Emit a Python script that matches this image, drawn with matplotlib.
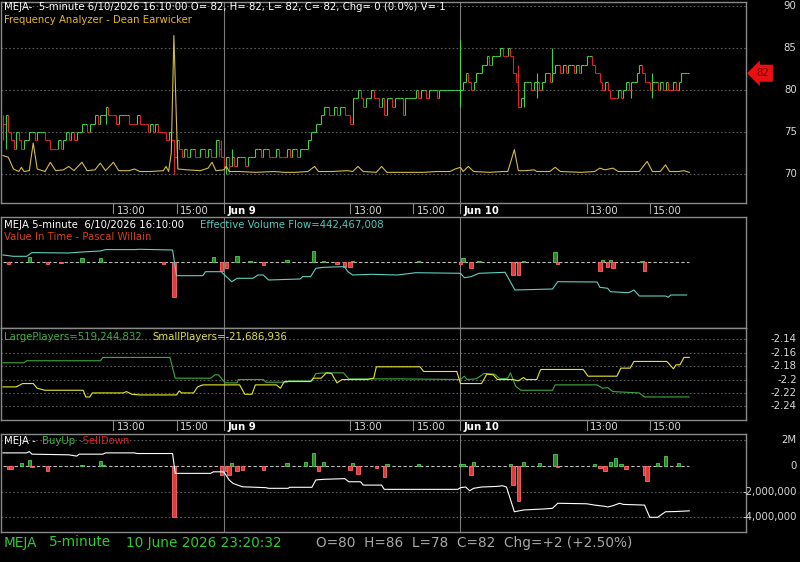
import numpy as np
import matplotlib
matplotlib.use("Agg")
import matplotlib.pyplot as plt
from matplotlib.collections import LineCollection

W, H = 800, 562
FRAME = "#8a8a8a"
GRID = "#5c5c5c"
TXT = "#d8d8d8"
GREEN = "#3fd13f"
RED = "#e02222"
FS = 7.3
LW = 0.8

# ---------------- data (x = 5-minute bar index, 0 = Jun 8 09:30) ----------------
tick_bars = [42, 66, 84, 132, 156, 174, 222, 246]
tick_labels = ["13:00", "15:00", "Jun 9", "13:00", "15:00", "Jun 10", "13:00", "15:00"]
day_bars = [84, 174]

close_jun8 = [76, 77, 75, 74, 73, 75, 74, 73, 74, 74, 75, 75, 74, 75, 75, 75,
              74, 74, 73, 73, 73, 74, 73, 74, 75, 74, 75, 74, 75, 75, 76, 76,
              75, 76, 76, 77, 76, 77, 77, 78, 77, 77, 77, 76, 77, 77, 77, 77,
              76, 76, 76, 77, 76, 76, 76, 75, 76, 75, 76, 75, 75, 75, 74, 75,
              74, 72, 74, 73, 72, 73, 72, 73, 73, 72, 72, 73, 73, 72, 73, 72,
              72, 74, 73, 72]
close_jun9 = [71, 72, 71, 72, 71, 72, 72, 72, 71, 72, 72, 72, 73, 73, 72, 73,
              73, 72, 72, 72, 73, 72, 72, 72, 73, 72, 73, 73, 72, 73, 73, 73,
              74, 75, 75, 76, 76, 77, 78, 78, 77, 77, 78, 77, 78, 78, 77, 77,
              76, 79, 79, 80, 79, 78, 79, 79, 80, 79, 79, 78, 79, 77, 79, 79,
              78, 79, 79, 79, 77, 79, 79, 79, 79, 80, 79, 80, 80, 79, 80, 80,
              80, 79, 80, 80, 80, 80, 80, 80, 80, 80]
close_jun10 = [80, 81, 82, 81, 80, 81, 82, 82, 83, 83, 84, 83, 84, 84, 84, 85,
               84, 84, 85, 84, 82, 81, 78, 79, 81, 81, 81, 80, 81, 81, 80, 81,
               82, 82, 81, 82, 83, 83, 82, 83, 82, 83, 83, 82, 83, 82, 83, 83,
               84, 84, 83, 82, 82, 81, 80, 81, 80, 79, 79, 79, 80, 79, 80, 81,
               80, 81, 81, 82, 83, 82, 81, 81, 80, 81, 81, 80, 81, 80, 81, 80,
               80, 81, 80, 81, 82, 82, 82]
closes = close_jun8 + close_jun9 + close_jun10

# (bar, low, high) extra wicks
wicks = [(0, 74, 77), (1, 73, 77), (39, 76, 78), (65, 70, 74), (81, 72, 74),
         (82, 72, 74), (83, 72, 74), (85, 70, 72), (86, 70, 72), (87, 71, 73),
         (174, 78, 86), (196, 78, 83), (198, 78, 81), (203, 79, 82),
         (209, 82, 85), (239, 79, 80), (247, 79, 82)]

freq_bar = [0, 2, 4, 6, 7, 8, 10, 11.5, 13, 16, 18, 20, 23, 25, 27, 30, 32, 35,
            37, 39, 42, 44, 48, 50, 52, 56, 61, 62, 63, 64, 65, 66, 66.5, 70,
            75, 78, 79.5, 81, 84, 85, 86, 90, 96, 103, 107, 111, 116, 118.5,
            120, 125, 131, 133, 135, 137, 142, 144, 146, 155, 160, 165, 170,
            172, 174, 175, 177, 179, 185, 190, 192, 194.5, 196, 199, 202, 203,
            208, 210, 212, 220, 225, 227, 229, 232, 234, 242, 245, 247, 250,
            252, 253.5, 257, 259, 261]
freq_val = [72.2, 72.0, 70.6, 70.3, 70.8, 70.3, 70.4, 73.7, 70.6, 70.3, 71.4,
            70.4, 70.5, 70.9, 70.4, 71.4, 70.4, 70.5, 71.3, 70.4, 71.4, 70.4,
            70.4, 70.6, 70.3, 70.3, 70.4, 70.9, 70.3, 72.5, 86.5, 76.0, 70.6,
            70.5, 70.4, 70.7, 71.4, 70.4, 70.5, 70.9, 70.3, 70.3, 70.2, 70.3,
            70.2, 70.2, 70.3, 70.9, 70.3, 70.3, 70.4, 70.3, 70.9, 70.3, 70.2,
            70.9, 70.2, 70.2, 70.2, 70.3, 70.3, 70.6, 70.8, 70.3, 70.9, 70.3,
            70.2, 70.3, 70.3, 72.9, 70.4, 70.4, 70.5, 70.3, 70.3, 70.8, 70.3,
            70.2, 70.3, 70.7, 70.5, 70.7, 70.3, 70.3, 71.5, 70.3, 70.3, 71.1,
            70.3, 70.3, 70.4, 70.2]

# panel 2 (scaled units)
evf_bar = [0, 4, 9, 11, 25, 30, 37, 39, 50, 52, 64.5, 66, 76, 77, 83, 84, 87,
           89, 95, 97, 99, 101, 113, 114, 117, 119, 122, 128, 130, 131, 133,
           140, 150, 157, 174, 175.5, 178, 181, 191, 194.7, 209, 211, 226,
           227, 230, 231, 238, 240, 242, 252, 253, 254, 260]
evf_val = [7.3, 6.0, 6.0, 9.7, 9.3, 10.3, 11.3, 12.7, 12.7, 13.0, 12.3, -13.4,
           -13.4, -9.4, -9.4, -12.0, -19.4, -16.0, -16.0, -12.7, -12.7, -17.7,
           -16.7, -14.3, -14.3, -6.0, -5.0, -4.5, -4.3, -9.0, -12.7, -12.0,
           -12.7, -10.4, -11.0, -15.4, -14.4, -11.0, -10.0, -27.7, -26.7,
           -19.4, -19.7, -25.0, -26.0, -29.4, -30.4, -27.7, -33.7, -33.7,
           -35.0, -32.7, -32.7]
vit_bar = [2, 10, 17, 22, 30, 37, 61, 65, 80, 83, 85, 89, 94, 99, 108, 118,
           122, 127, 130, 132, 133, 158, 174, 175, 178, 181, 194, 196, 198,
           210, 211, 227, 228, 230, 231, 232, 243, 244]
vit_val = [-1.7, 5.0, -1.5, -1.0, 4.0, 4.0, -1.5, -35.0, 5.0, -8.3, -6.0, 6.3,
           1.5, -2.3, 2.3, 11.3, 1.0, -1.7, -5.0, -5.0, 1.5, 1.5, -1.5, 4.3,
           -6.0, 1.3, -12.7, -12.7, 1.7, 10.3, -1.7, -8.3, 2.0, -4.3, 2.7,
           -6.0, 1.3, -8.3]

# panel 3
large_bar = [0, 8, 9, 37, 38, 63.5, 65.5, 79, 80.6, 82, 84.5, 89, 89.5, 99, 100,
             108, 108.5, 117.5, 119, 123, 129.5, 131.5, 151, 174, 175.5, 176.5,
             180, 183, 187, 189, 192, 193, 195, 197, 209, 210, 226, 228, 230,
             232, 242, 244, 261]
large_val = [-2.175, -2.175, -2.172, -2.172, -2.167, -2.167, -2.198, -2.198,
             -2.193, -2.193, -2.205, -2.205, -2.200, -2.200, -2.204, -2.204,
             -2.202, -2.202, -2.191, -2.190, -2.190, -2.199, -2.199, -2.200,
             -2.195, -2.200, -2.199, -2.191, -2.192, -2.199, -2.198, -2.190,
             -2.210, -2.216, -2.216, -2.208, -2.208, -2.213, -2.212, -2.218,
             -2.220, -2.226, -2.226]
small_bar = [0, 5, 7.5, 11.5, 13, 16, 30.5, 31.5, 33, 34, 45.7, 47, 49, 52, 66,
             67, 68, 72.5, 74, 76, 90, 92, 94.7, 96, 104, 105.5, 107, 117, 118,
             121, 123, 125, 127, 129, 138.5, 141, 142, 151, 158.6, 160, 172.6,
             174, 182, 184, 186.5, 188, 194, 196, 198, 199, 203, 204.5, 220.7,
             222.5, 233.5, 235, 238.5, 240, 252.5, 255, 256, 257.5, 259, 261]
small_val = [-2.211, -2.211, -2.206, -2.206, -2.213, -2.216, -2.216, -2.226,
             -2.226, -2.220, -2.220, -2.218, -2.222, -2.223, -2.223, -2.217,
             -2.220, -2.220, -2.211, -2.208, -2.208, -2.222, -2.222, -2.208,
             -2.208, -2.213, -2.203, -2.203, -2.198, -2.198, -2.190, -2.191,
             -2.205, -2.200, -2.200, -2.198, -2.181, -2.181, -2.181, -2.188,
             -2.188, -2.206, -2.206, -2.192, -2.193, -2.200, -2.200, -2.202,
             -2.197, -2.200, -2.200, -2.185, -2.185, -2.195, -2.195, -2.183,
             -2.183, -2.173, -2.173, -2.184, -2.178, -2.178, -2.167, -2.167]
p3_ticks = [-2.14, -2.16, -2.18, -2.2, -2.22, -2.24]
p3_labels = ["-2.14", "-2.16", "-2.18", "-2.2", "-2.22", "-2.24"]

# panel 4 (millions)
cum_bar = [0, 9, 10, 11, 25, 28, 29, 38, 39, 50, 51, 64.5, 65.5, 79, 80, 84, 86,
           87.5, 91, 100, 101, 108.5, 109, 117.5, 119, 122, 130, 131.5, 136,
           137, 144, 145, 173, 174, 176, 177.5, 179, 182, 188, 190, 191.5,
           194.5, 198, 206, 209, 211, 222, 225, 229, 230, 232, 234.5, 236,
           244, 246, 249, 250, 252, 256, 261]
cum_val = [1.0, 1.0, 1.1, 0.9, 0.85, 0.75, 0.9, 0.9, 1.0, 1.0, 0.95, 0.95,
           -0.59, -0.59, -0.47, -0.47, -1.1, -1.37, -1.63, -1.7, -1.75, -1.75,
           -1.67, -1.67, -1.1, -1.05, -1.0, -1.24, -1.24, -1.5, -1.5, -1.83,
           -1.83, -1.7, -1.65, -1.94, -1.75, -1.65, -1.6, -1.55, -1.65, -3.57,
           -3.43, -3.35, -3.3, -2.91, -2.95, -3.05, -3.15, -3.2, -3.1, -2.91,
           -3.0, -3.05, -4.0, -4.0, -3.85, -3.57, -3.55, -3.5]
bu_bar = [2, 3, 7, 10, 11, 17, 30, 37, 38, 65, 83, 85, 86, 87, 89, 91, 99, 108,
          115, 118, 120, 122, 132, 133, 135, 142, 145, 146, 158, 174, 175, 178,
          179, 193, 194, 196, 198, 204, 210, 211, 225, 227, 229, 231, 233, 235,
          237, 244, 245, 249, 252, 257]
bu_val = [-0.26, -0.26, 0.2, 0.46, -0.1, -0.44, 0.08, 0.39, 0.05, -3.97, -0.7,
          -0.44, -0.7, 0.2, -0.44, -0.31, -0.31, 0.2, 0.33, 0.98, -0.44, 0.26,
          -0.31, 0.2, -0.62, -0.18, -0.88, 0.15, 0.1, 0.15, 0.15, -0.7, 0.26,
          0.1, -1.5, -2.76, 0.28, 0.2, 0.9, -0.13, 0.1, -0.18, -0.39, 0.28, 0.6,
          0.1, -0.23, -0.7, -1.2, 0.2, 0.72, 0.2]

# ---------------- figure ----------------
fig = plt.figure(figsize=(W / 100, H / 100), dpi=100, facecolor="black")


def add_panel(y0, y1, ylim):
    ax = fig.add_axes([1 / W, 1 - y1 / H, 745 / W, (y1 - y0) / H])
    ax.set_facecolor("black")
    ax.set_xlim(-0.76, 282.6)
    ax.set_ylim(*ylim)
    ax.set_xticks([])
    ax.set_yticks([])
    for s in ax.spines.values():
        s.set_color(FRAME)
        s.set_linewidth(1)
    for b in day_bars:
        ax.axvline(b, color="#7a7a7a", lw=LW, zorder=1)
    return ax


def right_labels(ax, ticks, labels, grid=True):
    for t, lab in zip(ticks, labels):
        ax.text(1.068, t, lab, transform=ax.get_yaxis_transform(), ha="right",
                va="center", color=TXT, fontsize=FS, clip_on=False)
        if grid:
            ax.axhline(t, color=GRID, lw=0.8, ls=(0, (1.5, 2)), zorder=0)


def time_row(ax, height_px):
    tr = ax.get_xaxis_transform()
    for b, lab in zip(tick_bars, tick_labels):
        ax.plot([b, b], [0, -10 / height_px], transform=tr, color=FRAME, lw=LW,
                clip_on=False)
        bold = lab.startswith("Jun")
        ax.text(b + 1.3, -7.5 / height_px, lab, transform=tr, ha="left",
                va="center", color="white" if bold else TXT, fontsize=FS,
                fontweight="bold" if bold else "normal")


def ftext(x, y, s, color, size=FS, **kw):
    fig.text(x / W, 1 - y / H, s, color=color, fontsize=size, va="center",
             ha="left", **kw)


# panel 1: price + frequency analyzer
ax1 = add_panel(1.5, 203, (66.55, 90.54))
right_labels(ax1, [90, 85, 80, 75, 70], ["90", "85", "80", "75", "70"])
segs, cols = [], []
col = RED
for i, c in enumerate(closes):
    p = closes[i - 1] if i else c
    if c > p:
        col = GREEN
    elif c < p:
        col = RED
    segs.append([(i, p), (i, c)])
    cols.append(col)
    segs.append([(i, c), (i + 1, c)])
    cols.append(col)
for b, lo, hi in wicks:
    c = closes[b]
    up = b > 0 and c >= closes[b - 1]
    segs.append([(b, lo), (b, hi)])
    cols.append(GREEN if up else RED)
ax1.add_collection(LineCollection(segs, colors=cols, linewidths=LW, zorder=3))
ax1.plot(freq_bar, freq_val, color="#d4bc48", lw=LW, zorder=4)
ax1.text((763 - 1) / 745, closes[-1], str(closes[-1]), transform=ax1.get_yaxis_transform(),
         ha="center", va="center", color="#7a0000", fontsize=FS, clip_on=False,
         bbox=dict(boxstyle="larrow,pad=0.35", fc="#e81010", ec="none"))
time_row(ax1, 201.5)

# panel 2: effective volume flow + value in time
ax2 = add_panel(217, 328, (-65.7, 45.3))
ax2.plot([0, 261], [0, 0], color="#bdbdbd", lw=LW, ls=(0, (3, 2)), zorder=2)
vb = np.array(vit_bar)
vv = np.array(vit_val)
ax2.bar(vb[vv > 0], vv[vv > 0], width=1.3, color="#2a8a2a", edgecolor="#55cc55",
        lw=0.6, zorder=3)
ax2.bar(vb[vv < 0], vv[vv < 0], width=1.3, color="#e03a3a", edgecolor="#ff6a6a",
        lw=0.6, zorder=3)
ax2.plot(evf_bar, evf_val, color="#5fcfbf", lw=LW, zorder=4)

# panel 3: large vs small players
ax3 = add_panel(328, 420, (-2.2604, -2.1231))
right_labels(ax3, p3_ticks, p3_labels)
ax3.plot(large_bar, large_val, color="#3faa3f", lw=LW, zorder=3)
ax3.plot(small_bar, small_val, color="#e6e62e", lw=LW, zorder=4)
time_row(ax3, 92)

# panel 4: buy up - sell down
ax4 = add_panel(434, 532, (-5.14, 2.465))
right_labels(ax4, [2, -2, -4], ["2M", "-2,000,000", "-4,000,000"])
right_labels(ax4, [0], ["0"], grid=False)
ax4.plot([0, 261], [0, 0], color="#bdbdbd", lw=LW, ls=(0, (3, 2)), zorder=2)
bb = np.array(bu_bar)
bv = np.array(bu_val)
ax4.bar(bb[bv > 0], bv[bv > 0], width=1.3, color="#2a8a2a", edgecolor="#55cc55",
        lw=0.6, zorder=3)
ax4.bar(bb[bv < 0], bv[bv < 0], width=1.3, color="#e03a3a", edgecolor="#ff6a6a",
        lw=0.6, zorder=3)
ax4.plot(cum_bar, cum_val, color="white", lw=LW, zorder=4)

# titles / legends
ftext(4, 7.5, "MEJA-  5-minute 6/10/2026 16:10:00 O= 82, H= 82, L= 82, C= 82, "
      "Chg= 0 (0.0%) V= 1", "white")
ftext(4, 20, "Frequency Analyzer - Dean Earwicker", "#e8b820")
ftext(4, 225, "MEJA 5-minute  6/10/2026 16:10:00", "white")
ftext(200, 225, "Effective Volume Flow=442,467,008", "#4fc8c0")
ftext(4, 237, "Value In Time - Pascal Willain", "#d8401c")
ftext(4, 336.5, "LargePlayers=519,244,832", "#40b040")
ftext(152, 336.5, "SmallPlayers=-21,686,936", "#e0e040")
ftext(4, 441, "MEJA - ", "white")
ftext(42, 441, "BuyUp", "#30c030")
ftext(80, 441, "-SellDown", "#e02020")
ftext(4, 542.5, "MEJA", "#2ecc2e", size=9.8)
ftext(49, 542.5, "5-minute", "#2ecc2e", size=9.8)
ftext(126, 542.5, "10 June 2026 23:20:32", "#2ecc2e", size=9.8)
ftext(316, 542.5, "O=80  H=86  L=78  C=82  Chg=+2 (+2.50%)", "#a8a8a8", size=9.8)

fig.savefig("out.png", dpi=100, facecolor="black")
